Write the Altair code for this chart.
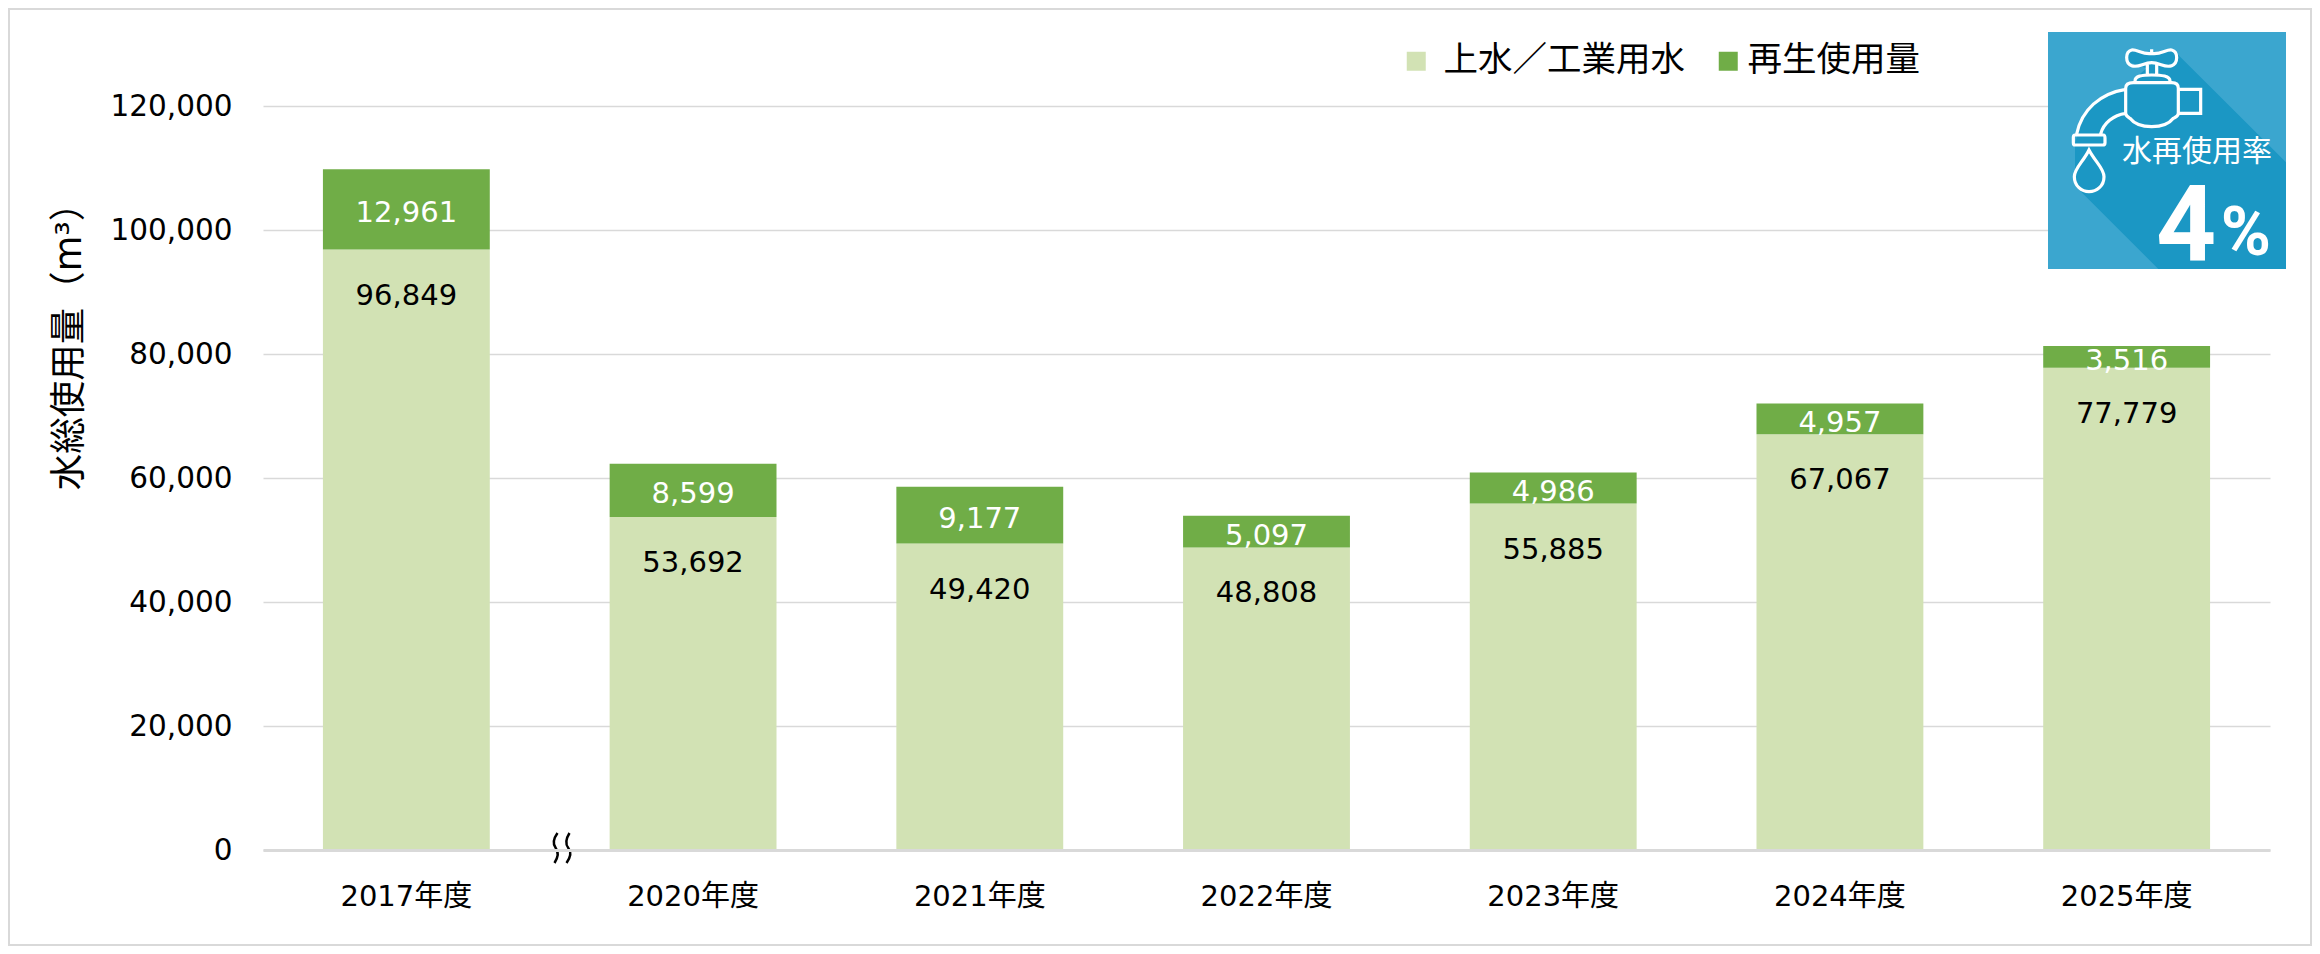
import altair as alt
import pandas as pd

years = ["2017年度", "2020年度", "2021年度", "2022年度", "2023年度", "2024年度", "2025年度"]
tap_water = [96849, 53692, 49420, 48808, 55885, 67067, 77779]
reused = [12961, 8599, 9177, 5097, 4986, 4957, 3516]
series_names = ["上水／工業用水", "再生使用量"]
series_colors = ["#d2e2b4", "#70ad47"]
y_ticks = [0, 20000, 40000, 60000, 80000, 100000, 120000]
y_title = "水総使用量（m³）"
badge_title = "水再使用率"
badge_value = "4"
badge_unit = "%"

FONT = "DejaVu Sans, Noto Sans CJK JP"
GRID = "#d9d9d9"
PAD_L, PAD_T = 255, 98
W, H = 2007, 744
TOTAL_W, TOTAL_H = 2304, 938

def px(x):
    return x - 8 - PAD_L

def py(y):
    return y - 8 - PAD_T

# Badge artwork, written in a local 0..1080 / 0..900 grid, converted to symbol units
BADGE_CX, BADGE_CY, BADGE_HALF = 621, 451.5, 357

def sym(path):
    out, i = [], 0
    for tok in path.split():
        if tok.isalpha():
            out.append(tok)
        else:
            c = (BADGE_CX, BADGE_CY)[i % 2]
            out.append(f"{(float(tok) - c) / BADGE_HALF:.4f}")
            i += 1
    return " ".join(out)

shadow_path = sym(
    "M 655 165 L 978 487 L 978 807 L 595 807 L 345 557 L 345 430 L 355 395 "
    "C 370 330 420 285 495 268 L 530 230 L 560 205 L 505 185 L 500 170 "
    "C 510 145 550 145 575 165 C 600 145 640 145 655 165 Z"
)
faucet_path = sym(
    "M 575 160 C 550 165 530 147 515 150 C 495 155 495 190 515 197 C 535 205 550 188 575 188 "
    "C 600 188 615 205 635 197 C 655 190 655 155 635 150 C 620 147 600 165 575 160 Z "
    "M 562 190 L 562 225 M 590 190 L 590 225 M 575 148 L 575 160 "
    "M 525 243 C 525 228 545 225 575 225 C 605 225 630 228 630 243 "
    "M 497 265 C 497 255 505 248 520 248 L 635 248 C 650 248 655 255 655 265 L 655 340 "
    "C 655 350 645 352 640 355 C 625 375 600 380 575 380 C 550 380 525 375 510 355 "
    "C 505 352 497 348 497 340 Z "
    "M 655 268 L 722 268 L 722 340 L 655 340 "
    "M 497 268 C 420 280 365 330 350 402 M 497 340 C 460 345 430 370 422 402 "
    "M 345 405 L 430 405 C 435 405 435 410 435 415 L 435 428 C 435 433 432 435 428 435 "
    "L 345 435 C 340 435 340 430 340 428 L 340 412 C 340 408 342 405 345 405 Z "
    "M 387 450 C 370 485 343 505 343 530 C 343 558 365 575 387 575 "
    "C 410 575 432 558 432 530 C 432 505 405 485 387 450 Z"
)
# Two wavy strokes of the axis-break sign, in symbol units
break_path = (
    "M -0.30 -1 C -0.62 -0.55 -0.62 -0.25 -0.42 0 C -0.22 0.25 -0.22 0.55 -0.50 1 "
    "M 0.50 -1 C 0.22 -0.55 0.22 -0.25 0.42 0 C 0.62 0.25 0.62 0.55 0.30 1"
)

rows = []
for yr, a, b in zip(years, tap_water, reused):
    rows.append(dict(year=yr, series=series_names[0], low=0, high=a, value=a, mid=a / 2))
    rows.append(dict(year=yr, series=series_names[1], low=a, high=a + b, value=b, mid=a + b / 2))
df = pd.DataFrame(rows)
df_a = df[df.series == series_names[0]]
df_b = df[df.series == series_names[1]]

x_axis = alt.Axis(
    labelAngle=0, labelFont=FONT, labelFontSize=29, labelColor="#000000",
    labelPadding=32, ticks=False, domainColor=GRID, domainWidth=3, grid=False, zindex=1,
)
x_enc = alt.X(
    "year:N", sort=years, title=None,
    scale=alt.Scale(paddingInner=0.418, paddingOuter=0.209),
    axis=x_axis,
)
y_scale = alt.Scale(domain=[0, 120000], nice=False)
y_axis = alt.Axis(
    values=y_ticks, labelExpr="format(datum.value, ',')", grid=True, gridColor=GRID, gridWidth=1.5,
    domain=False, ticks=False, labelFont=FONT, labelFontSize=29.5, labelColor="#000000",
    labelPadding=31, titleFont=FONT, titleFontSize=36.5, titleFontWeight="normal",
    titleColor="#000000", titleX=-194, titleY=231, titleAlign="center",
    titleBaseline="middle", titleAngle=270,
)

def y_enc(field):
    return alt.Y(field, scale=y_scale, title=y_title, axis=y_axis)

def bar_layer(data, name, color, legend_x, offset):
    return alt.Chart(data).mark_bar().encode(
        x=x_enc,
        y=y_enc("low:Q"),
        y2="high:Q",
        color=alt.Color(
            "series:N", scale=alt.Scale(domain=[name], range=[color]), title=None,
            legend=alt.Legend(
                orient="none", legendX=legend_x, legendY=-62,
                symbolType="square", symbolSize=361, symbolStrokeWidth=0, symbolOpacity=1,
                labelFont=FONT, labelFontSize=34.5, labelColor="#000000", labelOffset=offset,
                labelLimit=400,
            ),
        ),
    )

bars_a = bar_layer(df_a, series_names[0], series_colors[0], 1136, 10)
bars_b = bar_layer(df_b, series_names[1], series_colors[1], 1448, 2)

labels_light = alt.Chart(df_a).mark_text(
    font=FONT, fontSize=29, color="#000000", baseline="middle", dy=46
).encode(x=x_enc, y=y_enc("high:Q"), text=alt.Text("value:Q", format=","))

labels_dark = alt.Chart(df_b).mark_text(
    font=FONT, fontSize=29, color="#ffffff", baseline="middle", dy=4
).encode(x=x_enc, y=y_enc("mid:Q"), text=alt.Text("value:Q", format=","))

one = alt.Chart(pd.DataFrame({"a": [0]}))

frame = one.mark_rect(filled=False, stroke=GRID, strokeWidth=2).encode(
    x=alt.value(-PAD_L + 1), x2=alt.value(TOTAL_W - PAD_L - 1),
    y=alt.value(-PAD_T + 1), y2=alt.value(TOTAL_H - PAD_T - 1),
)
axis_break = one.mark_point(
    shape=break_path, size=30 ** 2, filled=False, stroke="#000000", strokeWidth=2.5, opacity=1
).encode(x=alt.value(px(562)), y=alt.value(py(848)))
badge_bg = one.mark_rect(fill="#3ba6cf").encode(
    x=alt.value(px(2048)), x2=alt.value(px(2286)), y=alt.value(py(32)), y2=alt.value(py(269)),
)
badge_shadow = one.mark_point(
    shape=shadow_path, size=238 ** 2, filled=True, fill="#1b97c4", strokeWidth=0, opacity=1
).encode(x=alt.value(px(2167)), y=alt.value(py(150.5)))
badge_icon = one.mark_point(
    shape=faucet_path, size=238 ** 2, filled=False, stroke="#ffffff", strokeWidth=3.2, opacity=1
).encode(x=alt.value(px(2167)), y=alt.value(py(150.5)))
badge_text = one.mark_text(
    text=badge_title, font=FONT, fontSize=30, color="#ffffff", baseline="middle"
).encode(x=alt.value(px(2197)), y=alt.value(py(152)))
badge_num = one.mark_text(
    text=badge_value, font="Roboto", fontWeight="bold", fontSize=105, color="#ffffff",
    baseline="alphabetic", align="center",
).encode(x=alt.value(px(2186)), y=alt.value(py(260)))
badge_pct = one.mark_text(
    text=badge_unit, font="Roboto", fontWeight="bold", fontSize=68, color="#ffffff",
    baseline="alphabetic", align="center",
).encode(x=alt.value(px(2246)), y=alt.value(py(255)))

chart = alt.layer(
    frame, bars_a, bars_b, labels_light, labels_dark, axis_break,
    badge_bg, badge_shadow, badge_icon, badge_text, badge_num, badge_pct,
).resolve_scale(color="independent").properties(
    width=W, height=H, background="#ffffff",
    padding={"left": PAD_L, "top": PAD_T, "right": TOTAL_W - PAD_L - W, "bottom": TOTAL_H - PAD_T - H},
    autosize=alt.AutoSizeParams(type="none"),
).configure_view(stroke=None)

chart.save("out.html", embed_options={"renderer": "svg", "actions": False})
